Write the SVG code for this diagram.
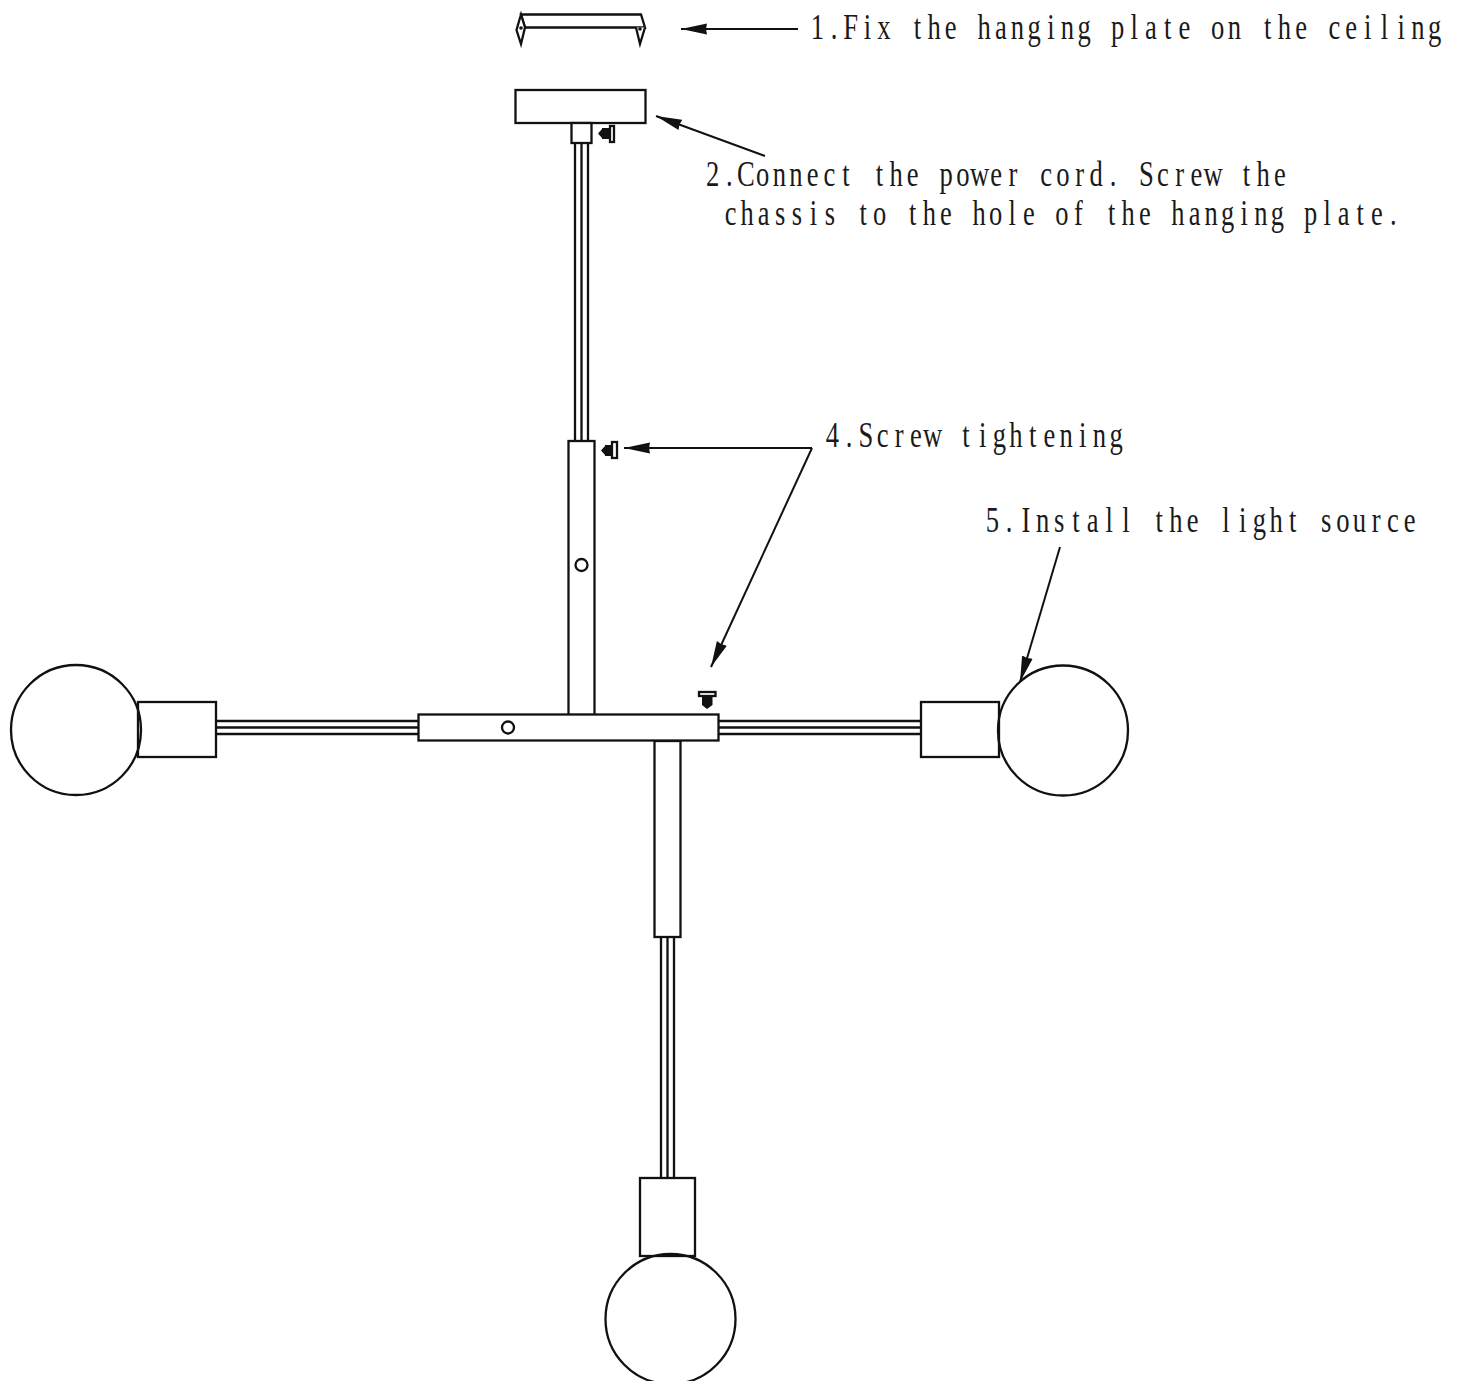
<svg xmlns="http://www.w3.org/2000/svg" width="1459" height="1381" viewBox="0 0 1459 1381">
<style>
.s{fill:#fff;stroke:#111;stroke-width:2.3}
.n{fill:none;stroke:#111;stroke-width:2.3}
.k{fill:#111;stroke:none}
.t{font-family:"Liberation Serif",serif;font-size:35px;fill:#1a1a1a;stroke:none;text-anchor:middle}
.c{fill:none;stroke:#111;stroke-width:2}
</style>
<defs>
<marker id="a" markerUnits="userSpaceOnUse" markerWidth="28" markerHeight="13" refX="26" refY="6.500" orient="auto"><path d="M0 1L26 6.500L0 12L1 6.500Z" fill="#111"/></marker>
</defs>
<rect width="1459" height="1381" fill="#fff"/>
<g id="hanging-plate">
<path class="s" d="M521 14.500H641L645 27.500H525Z"/>
<path class="s" d="M521 14.500L516.500 30L521 44L525 27.500Z"/>
<path class="s" d="M636 27.500L640 44L645 27.500"/>
<circle class="k" cx="521" cy="28" r="1.800"/><circle class="k" cx="640" cy="29" r="1.800"/>
</g>
<g id="canopy">
<path class="n" d="M575 143V441M581.500 143V441M588 143V441"/>
<rect class="s" x="515.500" y="90" width="130" height="33"/>
<rect class="s" x="571.500" y="123" width="20" height="20"/>
</g>
<g id="canopy-screw">
<rect class="s" x="610" y="126" width="4" height="16"/>
<rect class="k" x="602" y="128" width="8" height="11"/><path class="k" d="M602 129L598 133.500L602 138Z"/>
</g>
<g id="upper-tube">
<rect class="s" x="568.500" y="441" width="26" height="274"/>
<circle class="s" cx="581.500" cy="565" r="6"/>
</g>
<g id="tube-screw">
<rect class="s" x="612" y="442" width="5" height="16"/>
<rect class="k" x="605" y="445" width="7" height="11"/><path class="k" d="M605 446L601 450.500L605 455Z"/>
</g>
<g id="left-arm">
<path class="n" d="M216 721H418M216 727.500H418M216 734H418"/>
<rect class="s" x="138" y="702" width="78" height="55"/>
<circle class="n" cx="76" cy="730" r="65"/>
</g>
<g id="right-arm">
<path class="n" d="M719 721H921M719 727.500H921M719 734H921"/>
<rect class="s" x="921" y="702" width="78" height="55"/>
<circle class="n" cx="1063" cy="730.500" r="65"/>
</g>
<g id="lower-arm">
<path class="n" d="M661 937V1178M667.500 937V1178M674 937V1178"/>
<rect class="s" x="654.500" y="741" width="26" height="196"/>
<rect class="s" x="640" y="1178" width="55" height="78"/>
<circle class="n" cx="670.500" cy="1319" r="65"/>
</g>
<g id="crossbar">
<rect class="s" x="418.500" y="714.500" width="300" height="26"/>
<circle class="s" cx="508" cy="727.500" r="6"/>
</g>
<g id="crossbar-screw">
<rect class="s" x="699" y="692" width="16.500" height="4"/>
<path class="k" d="M702 696H712.500V705L707 709L702 705Z"/>
</g>
<g id="connectors">
<path class="c" d="M798 29H681" marker-end="url(#a)"/>
<path class="c" d="M765 156L656 116" marker-end="url(#a)"/>
<path class="c" d="M812 448H624" marker-end="url(#a)"/>
<path class="c" d="M812 448L711 667" marker-end="url(#a)"/>
<path class="c" d="M1060 547L1020 682" marker-end="url(#a)"/>
</g>
<g id="labels">
<text class="t" transform="translate(817.300 39) scale(0.76 1)" x="0 21.95 43.9 65.85 87.8 109.75 131.7 153.65 175.6 197.55 219.5 241.45 263.4 285.35 307.3 329.25 351.2 373.15 395.1 417.05 439 460.95 482.9 504.85 526.8 548.75 570.7 592.65 614.6 636.55 658.5 680.45 702.4 724.35 746.3 768.25 790.2 812.15">1.Fix the hanging plate on the ceiling</text>
<text class="t" transform="translate(712.600 186) scale(0.76 1)" x="0 21.95 43.9 65.85 87.8 109.75 131.7 153.65 175.6 197.55 219.5 241.45 263.4 285.35 307.3 329.25 351.2 373.15 395.1 417.05 439 460.95 482.9 504.85 526.8 548.75 570.7 592.65 614.6 636.55 658.5 680.45 702.4 724.35 746.3">2.Connect the power cord. Screw the</text>
<text class="t" transform="translate(730.500 225) scale(0.755 1)" x="0 21.95 43.9 65.85 87.8 109.75 131.7 153.65 175.6 197.55 219.5 241.45 263.4 285.35 307.3 329.25 351.2 373.15 395.1 417.05 439 460.95 482.9 504.85 526.8 548.75 570.7 592.65 614.6 636.55 658.5 680.45 702.4 724.35 746.3 768.25 790.2 812.15 834.1 856.05 878">chassis to the hole of the hanging plate.</text>
<text class="t" transform="translate(832.500 447) scale(0.76 1)" x="0 21.95 43.9 65.85 87.8 109.75 131.7 153.65 175.6 197.55 219.5 241.45 263.4 285.35 307.3 329.25 351.2 373.15">4.Screw tightening</text>
<text class="t" transform="translate(992.500 532) scale(0.76 1)" x="0 21.95 43.9 65.85 87.8 109.75 131.7 153.65 175.6 197.55 219.5 241.45 263.4 285.35 307.3 329.25 351.2 373.15 395.1 417.05 439 460.95 482.9 504.85 526.8 548.75">5.Install the light source</text>
</g>
</svg>
